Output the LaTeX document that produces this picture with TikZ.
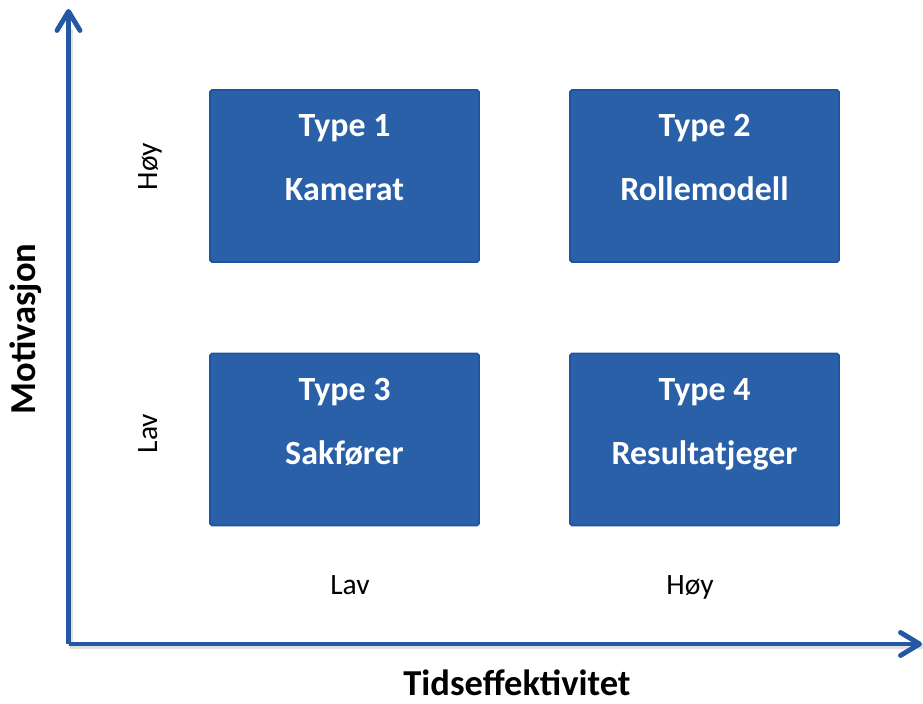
\documentclass[tikz,border=0pt]{standalone}
\usepackage{fontspec}
\setmainfont{Carlito}
\usepackage{tikz}
\usetikzlibrary{calc, arrows.meta, positioning}
\definecolor{boxblue}{RGB}{41,96,168}
\definecolor{boxedge}{RGB}{31,84,158}
\definecolor{axisblue}{RGB}{36,88,164}

\begin{document}
\begin{tikzpicture}[>={Straight Barb[length=3.8mm,width=4.6mm,round]}, scale=1,
    axis/.style={draw=axisblue, line width=2.8pt, ->},
    shade/.style={draw=black, opacity=0.12, line width=3pt},
    typebox/.style={draw=boxedge, line width=1pt, fill=boxblue, rounded corners=1pt,
        minimum width=5.38cm, minimum height=3.44cm, inner sep=0pt},
    boxtext/.style={anchor=base, text=white, font=\bfseries\fontsize{19.3}{23}\selectfont},
    title/.style={anchor=base, inner sep=0pt, font=\bfseries\fontsize{20.8}{25}\selectfont},
    level/.style={anchor=base, inner sep=0pt, font=\fontsize{16.8}{20}\selectfont}]
\useasboundingbox (0,0) rectangle (18.46,14.08);
\coordinate (o) at (1.37,1.2);
\coordinate (ytip) at (1.37,13.9);
\coordinate (xtip) at (18.44,1.2);
% axes
\draw[shade] ([shift={(0.04,-0.05)}]o) -- ([shift={(0.04,-0.05)}]xtip |- o);
\draw[shade] ([shift={(0.04,-0.05)}]o) -- ([shift={(0.04,0)}]o |- 0,13.5);
\draw[axis] (o) -- (ytip);
\draw[axis] (o) -- (xtip);

\foreach \x/\y/\n/\name in {6.89/10.56/1/Kamerat, 14.09/10.56/2/Rollemodell,
    6.89/5.29/3/Sakfører, 14.09/5.29/4/Resultatjeger}{
  \node[typebox] (t\n) at (\x,\y) {};
  \node[boxtext] (t\n a) at ([yshift=0.786cm]t\n.center) {Type \n};
  \node[boxtext] (t\n b) at ([yshift=-0.494cm]t\n.center) {\name};
}

\node[title] (xlab) at (10.34,0.17) {Tidseffektivitet};
\node[title, rotate=90] (ylab) at (0.71,7.5) {Motivasjon};
\node[level] (xlow) at (7.0,2.18) {Lav};
\node[level] (xhigh) at (13.8,2.18) {Høy};
\node[level, rotate=90] (yhigh) at (3.14,10.75) {Høy};
\node[level, rotate=90] (ylow) at (3.14,5.41) {Lav};
\end{tikzpicture}
\end{document}
